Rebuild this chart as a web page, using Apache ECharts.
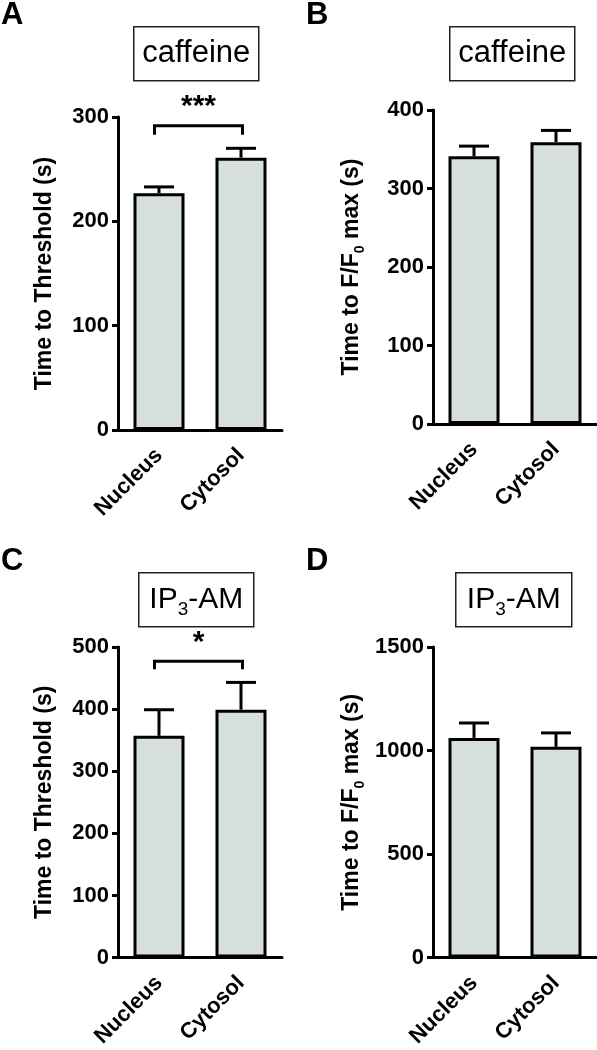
<!DOCTYPE html>
<html>
<head>
<meta charset="utf-8">
<script src="https://cdn.jsdelivr.net/npm/echarts@6/dist/echarts.min.js"></script>
<style>html,body{margin:0;padding:0;background:#fff;}#c{width:597px;height:1050px;}</style>
</head>
<body>
<div id="c"></div>
<script>
// ---- data ----
const categories = ['Nucleus', 'Cytosol'];
const caffThreshMean = [227, 261];
const caffThreshSem = [6, 9];
const caffPeakMean = [341, 359];
const caffPeakSem = [13, 15];
const ip3ThreshMean = [357, 399];
const ip3ThreshSem = [42, 44];
const ip3PeakMean = [1061, 1018];
const ip3PeakSem = [72, 67];
const yMax = [300, 400, 500, 1500];
const yInterval = [100, 100, 100, 500];
const panelLetters = ['A', 'B', 'C', 'D'];
const sigA = '***';
const sigC = '*';
const bracketA = [283, 291.5];
const bracketC = [464, 477];

const FONT = 'Liberation Sans';
const BAR_FILL = '#d6dfdc';

const grids = [
  {left: 118, top: 117, width: 164, height: 313},
  {left: 433, top: 110, width: 164, height: 314},
  {left: 118, top: 647, width: 164, height: 313},
  {left: 433, top: 647, width: 164, height: 313}
];

const yNames = [
  'Time to Threshold (s)',
  'Time to F/F{sub|0} max (s)',
  'Time to Threshold (s)',
  'Time to F/F{sub|0} max (s)'
];
const nameGaps = [58, 66, 58, 66];

const xAxes = grids.map((g, i) => ({
  type: 'category', gridIndex: i, data: categories,
  axisLine: {lineStyle: {color: '#000', width: 3}},
  axisTick: {alignWithLabel: true, length: 8, lineStyle: {color: '#000', width: 3}},
  axisLabel: {rotate: 45, margin: 22, color: '#000', fontFamily: FONT, fontWeight: 'bold', fontSize: 22, interval: 0}
}));

const yAxes = grids.map((g, i) => ({
  type: 'value', gridIndex: i, min: 0, max: yMax[i], interval: yInterval[i],
  name: yNames[i], nameLocation: 'middle', nameGap: nameGaps[i], nameRotate: 90,
  nameTextStyle: {
    color: '#000', fontFamily: FONT, fontWeight: 'bold', fontSize: 23, lineHeight: 30,
    rich: {sub: {fontSize: 14, fontFamily: FONT, fontWeight: 'bold', color: '#000', lineHeight: 14, verticalAlign: 'bottom'}}
  },
  axisLine: {show: true, lineStyle: {color: '#000', width: 3}},
  axisTick: {show: true, length: 6, lineStyle: {color: '#000', width: 3}},
  splitLine: {show: false},
  axisLabel: {margin: 9, color: '#000', fontFamily: FONT, fontWeight: 'bold', fontSize: 22, formatter: v => String(v)}
}));

function errRender(params, api) {
  const i = api.value(0), m = api.value(1), e = api.value(2);
  const p0 = api.coord([i, m]);
  const p1 = api.coord([i, m + e]);
  const hw = 15;
  const st = {stroke: '#000', lineWidth: 3};
  return {type: 'group', children: [
    {type: 'line', shape: {x1: p0[0], y1: p0[1], x2: p1[0], y2: p1[1]}, style: st},
    {type: 'line', shape: {x1: p1[0] - hw, y1: p1[1], x2: p1[0] + hw, y2: p1[1]}, style: st}
  ]};
}

function bracketRender(lo, hi, text) {
  return function (params, api) {
    const a0 = api.coord([0, lo]), a1 = api.coord([0, hi]);
    const b0 = api.coord([1, lo]), b1 = api.coord([1, hi]);
    const xl = a0[0] - 4.5, xr = b0[0] + 1.5;
    const st = {stroke: '#000', lineWidth: 3, fill: null};
    return {type: 'group', children: [
      {type: 'polyline', shape: {points: [[xl, a0[1]], [xl, a1[1]], [xr, b1[1]], [xr, b0[1]]]}, style: st},
      {type: 'text', x: (xl + xr) / 2, y: a1[1] - 4, style: {text: text, fontFamily: FONT, fontWeight: 'bold', fontSize: 30, fill: '#000', align: 'center', verticalAlign: 'bottom'}}
    ]};
  };
}

const means = [caffThreshMean, caffPeakMean, ip3ThreshMean, ip3PeakMean];
const sems = [caffThreshSem, caffPeakSem, ip3ThreshSem, ip3PeakSem];

const series = [];
means.forEach((m, i) => {
  series.push({
    type: 'bar', xAxisIndex: i, yAxisIndex: i, data: m, barWidth: 51,
    itemStyle: {color: BAR_FILL, borderColor: '#000', borderWidth: 3},
    silent: true, z: 2
  });
  series.push({
    type: 'custom', xAxisIndex: i, yAxisIndex: i, renderItem: errRender,
    data: m.map((v, k) => [k, v, sems[i][k]]), encode: {x: 0, y: 1}, z: 3, silent: true
  });
});
series.push({type: 'custom', xAxisIndex: 0, yAxisIndex: 0, renderItem: bracketRender(bracketA[0], bracketA[1], sigA), data: [[0, 0]], z: 4, silent: true});
series.push({type: 'custom', xAxisIndex: 2, yAxisIndex: 2, renderItem: bracketRender(bracketC[0], bracketC[1], sigC), data: [[0, 0]], z: 4, silent: true});

function titleBox(x, y, w, h, textObj) {
  return {type: 'group', left: x, top: y, children: [
    {type: 'rect', shape: {x: 0, y: 0, width: w, height: h}, style: {fill: '#fff', stroke: '#222', lineWidth: 1.5}},
    Object.assign({type: 'text', x: w / 2, y: h / 2}, textObj)
  ]};
}
const titleStyle = {fontFamily: FONT, fontSize: 31, fill: '#000', align: 'center', verticalAlign: 'middle'};
const ip3Style = {
  text: '{n|IP}{s|3}{n|-AM}', align: 'center', verticalAlign: 'middle',
  rich: {
    n: {fontFamily: FONT, fontSize: 30, fill: '#000', lineHeight: 40, verticalAlign: 'middle'},
    s: {fontFamily: FONT, fontSize: 19, fill: '#000', lineHeight: 19, verticalAlign: 'bottom'}
  }
};

const letterPos = [[1, 0], [306, 0], [1, 546], [306, 546]];
const graphic = panelLetters.map((L, i) => ({
  type: 'text', left: letterPos[i][0], top: letterPos[i][1],
  style: {text: L, fontFamily: FONT, fontWeight: 'bold', fontSize: 31, fill: '#000'}
})).concat([
  titleBox(133, 26, 125, 54, {style: Object.assign({text: 'caffeine'}, titleStyle)}),
  titleBox(449, 26, 125, 54, {style: Object.assign({text: 'caffeine'}, titleStyle)}),
  titleBox(138, 572, 115, 54, {style: ip3Style}),
  titleBox(455, 572, 116, 54, {style: ip3Style})
]);

const chart = echarts.init(document.getElementById('c'), null, {renderer: 'canvas'});
chart.setOption({
  animation: false,
  backgroundColor: '#fff',
  grid: grids,
  xAxis: xAxes,
  yAxis: yAxes,
  series: series,
  graphic: graphic
});
</script>
</body>
</html>
